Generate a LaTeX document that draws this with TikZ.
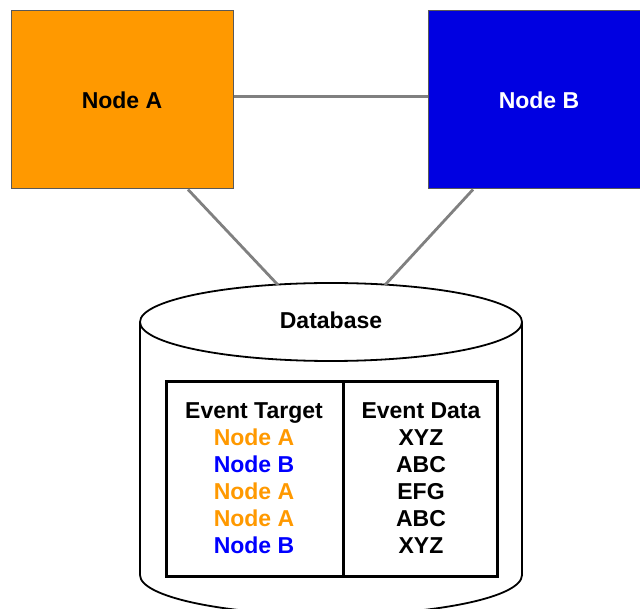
\documentclass[tikz,border=0pt]{standalone}
\usepackage{fontspec}
\setmainfont{Liberation Sans}
\usetikzlibrary{positioning}

\definecolor{nodeorange}{RGB}{255,153,0}
\definecolor{nodeblue}{RGB}{0,0,225}
\definecolor{textblue}{RGB}{0,0,255}
\definecolor{linkgray}{RGB}{128,128,128}

\begin{document}
\begin{tikzpicture}[x=1pt,y=1pt,font=\fontsize{23}{25}\selectfont\bfseries,
  box/.style={draw=black!65,line width=1pt,minimum width=222pt,minimum height=178pt,inner sep=0pt},
  link/.style={draw=linkgray,line width=2.8pt},
  entry/.style={inner sep=0pt,text height=16pt,text depth=5pt},
  node distance=27pt]

  \useasboundingbox (0,0) rectangle (640,608);

  \node[box,fill=nodeorange]          (A) at (122,508) {Node A};
  \node[box,fill=nodeblue,text=white] (B) at (539,508) {Node B};

  % database cylinder
  \draw[line width=1.8pt,fill=white] (140,286) -- (140,33)
    arc[start angle=180,end angle=360,x radius=191,y radius=40] -- (522,286);
  \draw[line width=1.8pt,fill=white] (331,286) ellipse [x radius=191,y radius=39];
  \node[entry] (db) at (331,285) {Database};

  \coordinate (dbA) at (278,323);
  \coordinate (dbB) at (385,323);

  \path[link] ([yshift=3.5pt]A.east) edge ([yshift=3.5pt]B.west)
        ([xshift=66pt]A.south) edge (dbA)
        ([xshift=-66pt]B.south) edge (dbB);

  % event table
  \node[draw,line width=3pt,minimum width=331pt,minimum height=194pt] (table) at (331.5,129) {};
  \coordinate (split) at (343,129);
  \draw[line width=3pt] (split |- table.north) -- (split |- table.south);

  \node[entry]                  (tgt) at (254,195) {Event Target};
  \node[entry,text=nodeorange]  (t1) [below of=tgt] {Node A};
  \node[entry,text=textblue]    (t2) [below of=t1]  {Node B};
  \node[entry,text=nodeorange]  (t3) [below of=t2]  {Node A};
  \node[entry,text=nodeorange]  (t4) [below of=t3]  {Node A};
  \node[entry,text=textblue]    (t5) [below of=t4]  {Node B};

  \node[entry]                  (dat) at (421,195) {Event Data};
  \node[entry]                  (d1) [below of=dat] {XYZ};
  \node[entry]                  (d2) [below of=d1]  {ABC};
  \node[entry]                  (d3) [below of=d2]  {EFG};
  \node[entry]                  (d4) [below of=d3]  {ABC};
  \node[entry]                  (d5) [below of=d4]  {XYZ};
\end{tikzpicture}
\end{document}
